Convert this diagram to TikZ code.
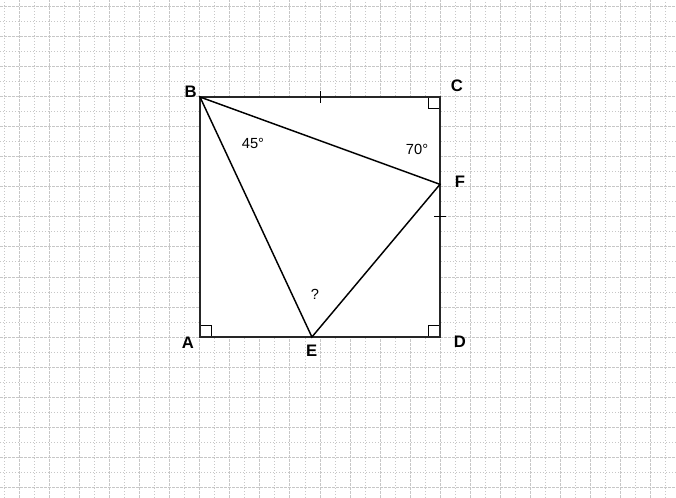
\documentclass[tikz,border=0pt]{standalone}
\usepackage{fontspec}
\setmainfont{Liberation Sans}
\usepackage{tikz}
\usetikzlibrary{calc,positioning}
\tikzstyle{majorline}=[
  color=black!22,
  line width=.75pt,
  dash pattern=on 2.25pt off .75pt,
]
\tikzstyle{minorline}=[
  color=black!22,
  line width=.75pt,
  dash pattern=on .75pt off 1.5pt,
]
\tikzstyle{vertex}=[
  font={\fontsize{12.5}{12.5}\selectfont\bfseries},
  inner sep=0pt,
]
\tikzstyle{anglelabel}=[
  font={\fontsize{11}{11}\selectfont},
  inner sep=0pt,
]
\tikzstyle{side}=[
  draw=black!85,
  line width=1.5pt,
]
\tikzstyle{cut}=[
  draw=black,
  line width=1.1pt,
]
\tikzset{
  x=11.25pt, y=11.25pt,
  rightangle/.style={draw=black, line width=.75pt},
}
\begin{document}
\begin{tikzpicture}
      \useasboundingbox (-13.333,-10.733) rectangle (31.733,22.467);
      \fill [white] (-13.333,-10.733) rectangle (31.733,22.467);
      %% grid
      \foreach \x in {-13,...,31} {
        \pgfmathparse{isodd(\x)}
        \ifnum\pgfmathresult=1
          \draw [minorline] (\x,-10.733) -- (\x,22.467);
        \else
          \draw [majorline] (\x,-10.733) -- (\x,22.467);
        \fi
      }
      \foreach \y in {-10,...,22} {
        \pgfmathparse{isodd(\y)}
        \ifnum\pgfmathresult=1
          \draw [minorline] (-13.333,\y) -- (31.733,\y);
        \else
          \draw [majorline] (-13.333,\y) -- (31.733,\y);
        \fi
      }
      %% square
      \coordinate (A) at (0,0);
      \coordinate (B) at (0,16);
      \coordinate (C) at (16,16);
      \coordinate (D) at (16,0);
      \coordinate (E) at ({16*tan(25)},0);
      \coordinate (F) at (16,{16-16*tan(20)});
      \fill [white] (A) rectangle (C);
      %%
      \draw [rightangle] (A) ++(0,.8) -- ++(.8,0) -- ++(0,-.8);
      \draw [rightangle] (C) ++(-.8,0) -- ++(0,-.8) -- ++(.8,0);
      \draw [rightangle] (D) ++(-.8,0) -- ++(0,.8) -- ++(.8,0);
      %%
      \draw [side] (A) -- (B) -- (C) -- (D) -- cycle;
      \draw [cut] (B) -- (F) -- (E) -- cycle;
      %% ticks
      \coordinate (M) at ($(B)!.5!(C)$);
      \coordinate (N) at ($(C)!.5!(D)$);
      \draw [rightangle] ($(M)+(0,.4)$) -- ($(M)-(0,.4)$);
      \draw [rightangle] ($(N)+(.4,0)$) -- ($(N)-(.4,0)$);
      %% labels
      \node (labelB) [vertex] at (-0.62,16.35) {B};
      \node (labelC) [vertex] at (17.13,16.73) {C};
      \node (labelF) [vertex] at (17.33,10.33) {F};
      \node (labelA) [vertex] at (-0.8,-0.4) {A};
      \node (labelE) [vertex] at (7.45,-0.93) {E};
      \node (labelD) [vertex] at (17.33,-0.33) {D};
      \node (angleB) [anglelabel] at (3.53,12.93) {45°};
      \node (angleF) [anglelabel] at (14.47,12.53) {70°};
      \node (angleE) [anglelabel] at (7.67,2.87) {?};
    \end{tikzpicture}
\end{document}
